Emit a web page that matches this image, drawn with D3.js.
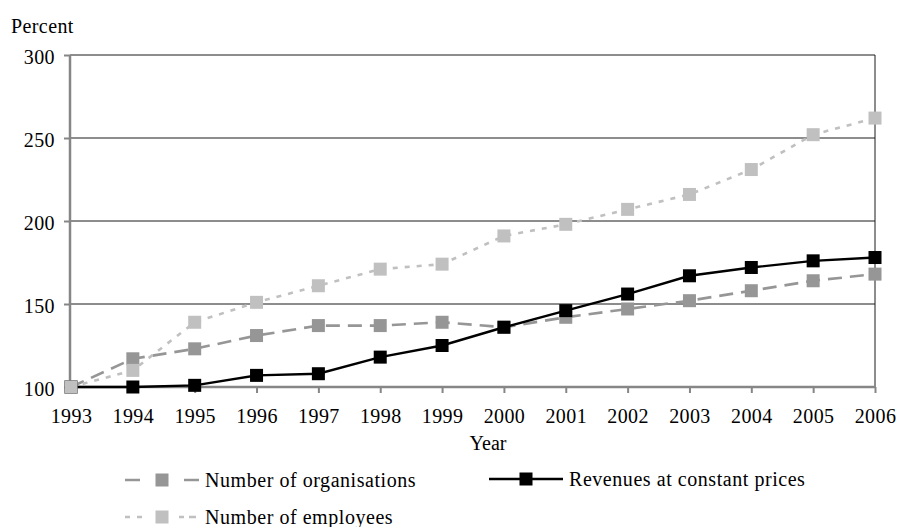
<!DOCTYPE html>
<html>
<head>
<meta charset="utf-8">
<script src="https://cdn.jsdelivr.net/npm/d3@7/dist/d3.min.js"></script>
<style>
  html, body { margin: 0; padding: 0; background: #fff; }
  svg { display: block; font-family: "Liberation Serif", "Times New Roman", serif; }
</style>
</head>
<body>
<svg id="chart" width="900" height="527"></svg>
<script>
// Index values (1993 = 100)
const years = [1993, 1994, 1995, 1996, 1997, 1998, 1999, 2000, 2001, 2002, 2003, 2004, 2005, 2006];
const organisations = [100, 117, 123, 131, 137, 137, 139, 136, 142, 147, 152, 158, 164, 168];
const revenues = [100, 100, 101, 107, 108, 118, 125, 136, 146, 156, 167, 172, 176, 178];
const employees = [100, 110, 139, 151, 161, 171, 174, 191, 198, 207, 216, 231, 252, 262];
const yTicks = [100, 150, 200, 250, 300];
const seriesNames = ["Number of organisations", "Revenues at constant prices", "Number of employees"];

const serif = "'Liberation Serif', 'Times New Roman', serif";
const svg = d3.select("#chart");
const plotLeft = 70, plotRight = 875, plotTop = 55, plotBottom = 387;

const x = d3.scalePoint().domain(years).range([71, plotRight]);
const y = d3.scaleLinear().domain([100, 300]).range([plotBottom, plotTop]);

// Horizontal gridlines
svg.append("g").selectAll("line")
  .data(yTicks.slice(1))
  .join("line")
  .attr("x1", plotLeft).attr("x2", plotRight)
  .attr("y1", d => y(d)).attr("y2", d => y(d))
  .attr("stroke", "#1a1a1a").attr("stroke-width", 1);

// Right border of plot
svg.append("line")
  .attr("x1", plotRight).attr("x2", plotRight).attr("y1", plotTop).attr("y2", plotBottom)
  .attr("stroke", "#1a1a1a").attr("stroke-width", 1);

// Axes
const axisColor = "#868686";
const yAxis = svg.append("g")
  .attr("transform", `translate(${plotLeft},0)`)
  .call(d3.axisLeft(y).tickValues(yTicks).tickSize(6).tickPadding(9).tickFormat(d3.format("d")));
const xAxis = svg.append("g")
  .attr("transform", `translate(0,${plotBottom})`)
  .call(d3.axisBottom(x).tickSize(6).tickPadding(16).tickFormat(d3.format("d")));

[yAxis, xAxis].forEach(g => {
  g.attr("font-family", serif).attr("font-size", 20);
  g.select(".domain").attr("stroke", axisColor).attr("stroke-width", 2.5);
  g.selectAll(".tick line").attr("stroke", axisColor).attr("stroke-width", 2);
  g.selectAll(".tick text")
    .attr("fill", "#000")
    .style("font-family", serif)
    .style("font-size", "20px")
    .style("letter-spacing", "0.4px");
});
yAxis.select(".domain").attr("d", `M0,${plotBottom}V${plotTop}`);
xAxis.select(".domain").attr("d", `M${plotLeft},0H${plotRight}`);
yAxis.selectAll(".tick text").attr("dy", "0.4em");

// Axis titles
svg.append("text").attr("x", 11).attr("y", 33)
  .style("font-size", "20px").style("letter-spacing", "0.4px").text("Percent");
svg.append("text").attr("x", 488).attr("y", 450).attr("text-anchor", "middle")
  .style("font-size", "20px").text("Year");

// Series styles
const styles = [
  { values: organisations, color: "#969696", width: 2.6, dash: "14,8" },
  { values: revenues,      color: "#000000", width: 2.4, dash: null },
  { values: employees,     color: "#c0c0c0", width: 2.6, dash: "5,7" }
];

const line = d3.line().x((d, i) => x(years[i])).y(d => y(d));
const ms = 13;

styles.forEach(s => {
  const g = svg.append("g");
  g.append("path")
    .datum(s.values)
    .attr("d", line)
    .attr("fill", "none")
    .attr("stroke", s.color)
    .attr("stroke-width", s.width)
    .attr("stroke-dasharray", s.dash);
  g.selectAll("rect")
    .data(s.values)
    .join("rect")
    .attr("x", (d, i) => x(years[i]) - ms / 2)
    .attr("y", d => y(d) - ms / 2)
    .attr("width", ms).attr("height", ms)
    .attr("fill", s.color);
});

// Legend
const legendPos = [
  { lx: 125, ty: 480 },
  { lx: 489, ty: 479 },
  { lx: 125, ty: 517 }
];
const symW = 74, lms = 13;
seriesNames.forEach((name, k) => {
  const s = styles[k], p = legendPos[k];
  const g = svg.append("g");
  g.append("line")
    .attr("x1", p.lx).attr("x2", p.lx + symW)
    .attr("y1", p.ty).attr("y2", p.ty)
    .attr("stroke", s.color).attr("stroke-width", s.width)
    .attr("stroke-dasharray", s.dash ? (k === 0 ? "15,44,15" : "5,7,5,37,5") : null);
  g.append("rect")
    .attr("x", p.lx + symW / 2 - lms / 2).attr("y", p.ty - lms / 2)
    .attr("width", lms).attr("height", lms)
    .attr("fill", s.color);
  g.append("text")
    .attr("x", p.lx + symW + 6).attr("y", p.ty + 7)
    .style("font-size", "20px")
    .style("letter-spacing", "0.55px")
    .text(name);
});
</script>
</body>
</html>
